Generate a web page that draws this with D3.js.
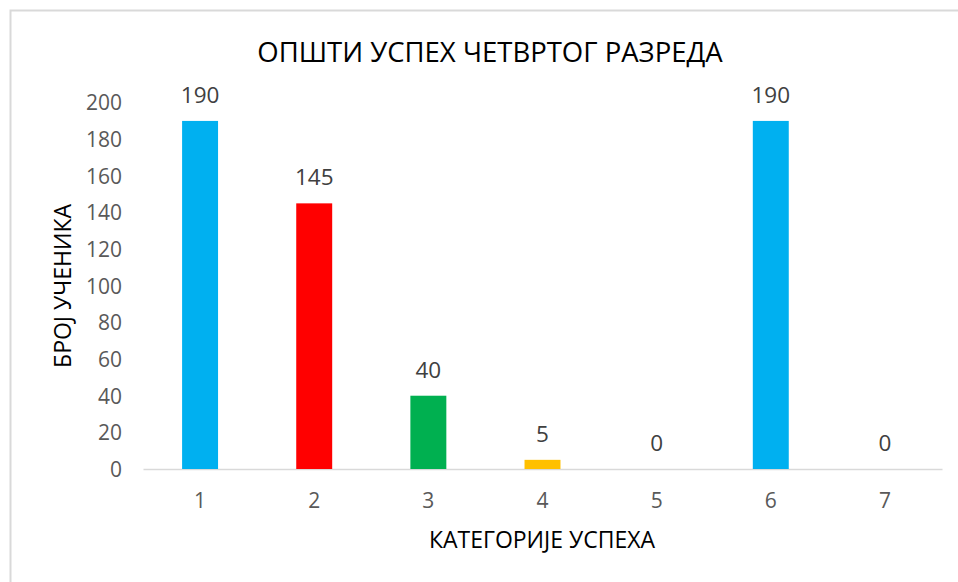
<!DOCTYPE html>
<html>
<head>
<meta charset="utf-8">
<script src="https://cdn.jsdelivr.net/npm/d3@7"></script>
<style>
  html, body { margin: 0; padding: 0; background: #fff; }
  svg text { font-family: "Open Sans", "DejaVu Sans", sans-serif; }
</style>
</head>
<body>
<svg id="chart" width="958" height="582"></svg>
<script>
// chart data
var categories = ['1', '2', '3', '4', '5', '6', '7'];
var values = [190, 145, 40, 5, 0, 190, 0];
var barColors = ['#00B0F0', '#FF0000', '#00B050', '#FFC000', '#00B0F0', '#00B0F0', '#00B0F0'];
var yTicks = [0, 20, 40, 60, 80, 100, 120, 140, 160, 180, 200];

var titleText = 'ОПШТИ УСПЕХ ЧЕТВРТОГ РАЗРЕДА';
var xTitle = 'КАТЕГОРИЈЕ УСПЕХА';
var yTitle = 'БРОЈ УЧЕНИКА';

var svg = d3.select('#chart');

// outer chart frame, runs off the right and bottom edges
svg.append('rect')
    .attr('x', 10.5).attr('y', 10.5)
    .attr('width', 960).attr('height', 600)
    .attr('fill', '#fff')
    .attr('stroke', '#d9d9d9')
    .attr('stroke-width', 2);

var plot = {left: 143, right: 942, top: 102.6, bottom: 469};

var x = d3.scaleBand()
    .domain(categories)
    .range([plot.left, plot.right])
    .paddingInner(0.685)
    .paddingOuter(0.3425);

var y = d3.scaleLinear()
    .domain([0, 200])
    .range([plot.bottom, plot.top]);

// y tick labels (no axis line, no gridlines)
var yAxis = d3.axisLeft(y).tickValues(yTicks).tickSize(0).tickPadding(0);
var gy = svg.append('g')
    .attr('transform', 'translate(122,0)')
    .call(yAxis);
gy.select('.domain').remove();
gy.selectAll('text')
    .attr('fill', '#595959')
    .style('font-size', '21px')
    .attr('dy', '0.35em');

// x axis
var xAxis = d3.axisBottom(x).tickSize(0).tickPadding(0);
var gx = svg.append('g')
    .attr('transform', 'translate(0,' + plot.bottom + ')')
    .call(xAxis);
gx.select('.domain')
    .attr('stroke', '#d9d9d9')
    .attr('stroke-width', 1.5);
gx.selectAll('text')
    .attr('fill', '#595959')
    .style('font-size', '21px')
    .attr('y', 24)
    .attr('dy', '0.71em');

// bars
svg.append('g').selectAll('rect')
    .data(values)
    .join('rect')
    .attr('x', function(d, i) { return x(categories[i]); })
    .attr('width', x.bandwidth())
    .attr('y', function(d) { return y(d); })
    .attr('height', function(d) { return y(0) - y(d); })
    .attr('fill', function(d, i) { return barColors[i]; });

// data labels
svg.append('g').selectAll('text')
    .data(values)
    .join('text')
    .attr('x', function(d, i) { return x(categories[i]) + x.bandwidth() / 2; })
    .attr('y', function(d) { return y(d) - 18; })
    .attr('text-anchor', 'middle')
    .attr('fill', '#404040')
    .style('font-size', '22.5px')
    .text(function(d) { return d; });

// titles
svg.append('text')
    .attr('x', 490).attr('y', 62)
    .attr('text-anchor', 'middle')
    .attr('fill', '#000')
    .style('font-size', '27.5px')
    .text(titleText);

svg.append('text')
    .attr('x', 542).attr('y', 548)
    .attr('text-anchor', 'middle')
    .attr('fill', '#000')
    .style('font-size', '23px')
    .text(xTitle);

svg.append('text')
    .attr('transform', 'translate(71,286) rotate(-90)')
    .attr('text-anchor', 'middle')
    .attr('fill', '#000')
    .style('font-size', '23px')
    .text(yTitle);
</script>
</body>
</html>
